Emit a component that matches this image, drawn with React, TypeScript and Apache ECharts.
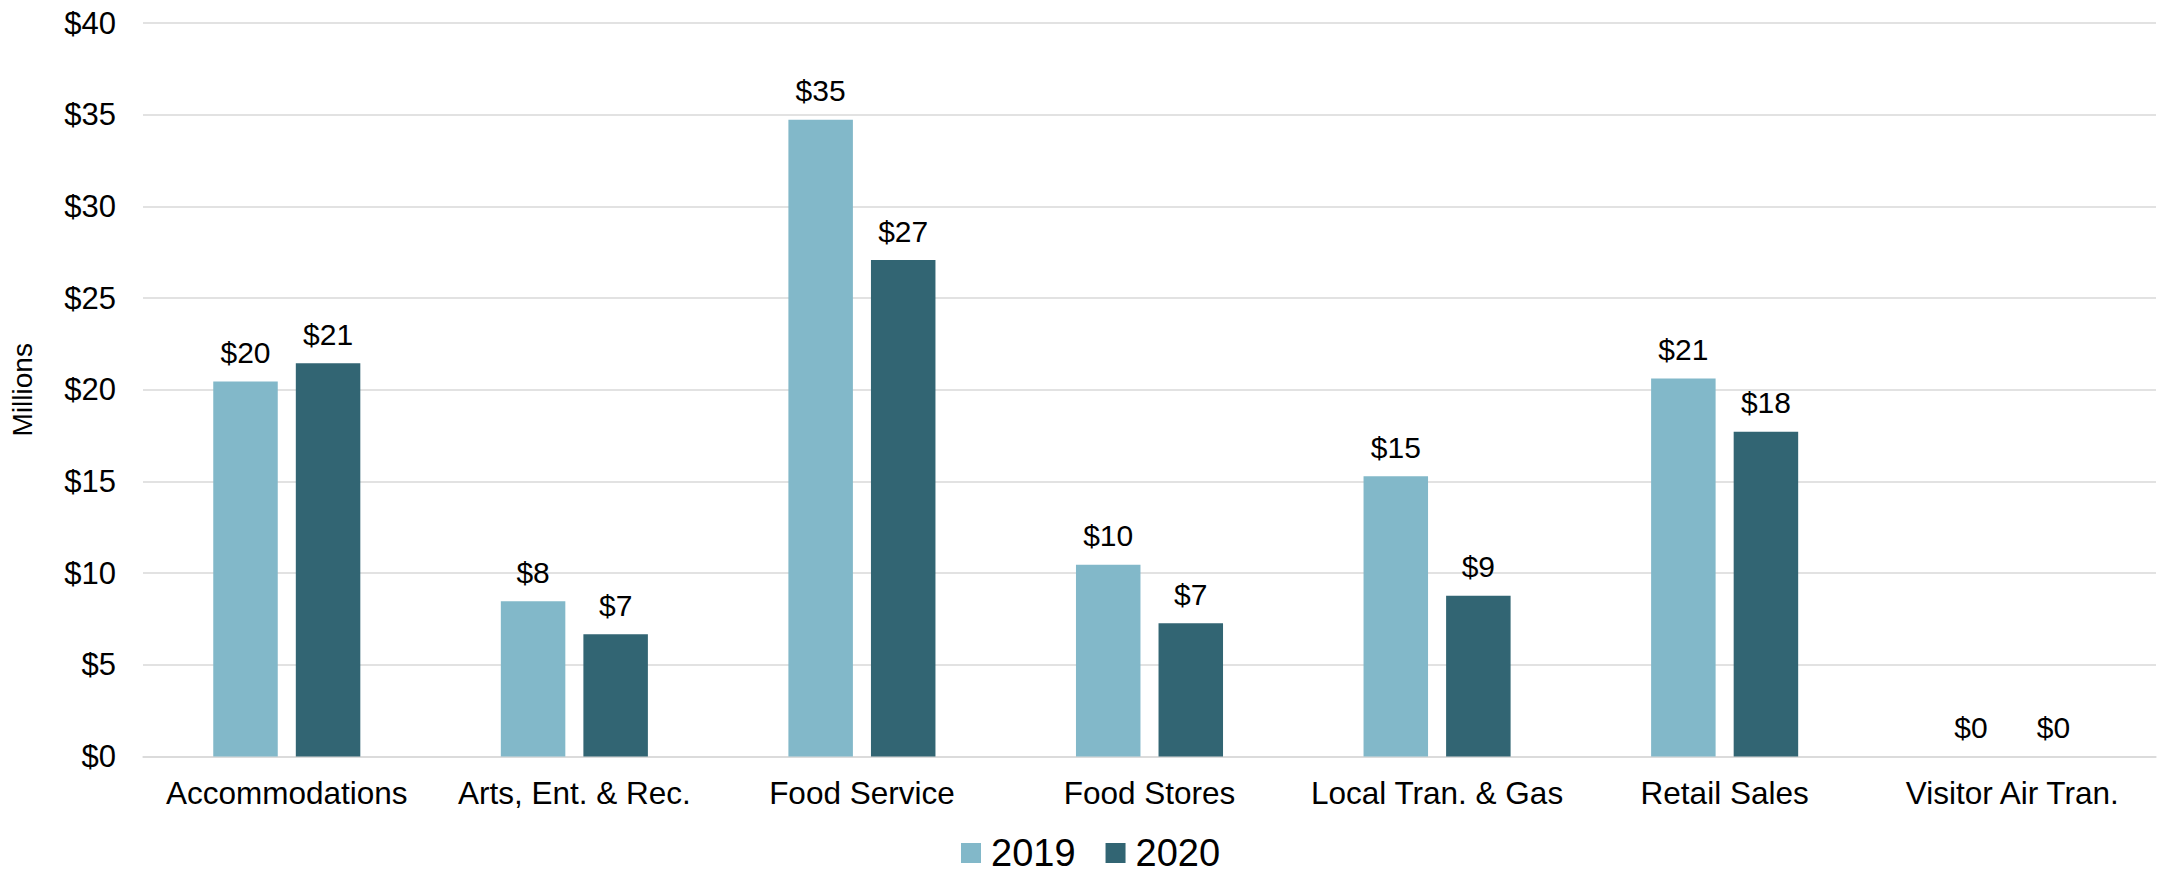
import React, { useEffect, useRef } from "react";
import * as echarts from "echarts";

const categories = [
  "Accommodations",
  "Arts, Ent. & Rec.",
  "Food Service",
  "Food Stores",
  "Local Tran. & Gas",
  "Retail Sales",
  "Visitor Air Tran.",
];
const values2019 = [20.45, 8.46, 34.72, 10.45, 15.28, 20.62, 0];
const values2020 = [21.44, 6.66, 27.07, 7.26, 8.77, 17.71, 0];
const yTicks = { min: 0, max: 40, interval: 5 };

const FONT = "Liberation Sans, Arial, sans-serif";

export default function App() {
  const ref = useRef<HTMLDivElement>(null);
  useEffect(() => {
    if (!ref.current) return;
    const chart = echarts.init(ref.current, null, { renderer: "svg" });
    const label = {
      show: true,
      position: "top",
      distance: 14,
      fontFamily: FONT,
      fontSize: 30,
      color: "#000",
      formatter: (p: any) => "$" + Math.round(p.value),
    };
    chart.setOption({
      animation: false,
      textStyle: { fontFamily: FONT },
      grid: { left: 136, right: 2, top: 23, bottom: 118.5 },
      legend: {
        left: 956,
        top: 829,
        itemWidth: 20,
        itemHeight: 20,
        itemGap: 30,
        icon: "rect",
        textStyle: { fontFamily: FONT, fontSize: 38, color: "#000", padding: [0, 0, 0, 5] },
        data: ["2019", "2020"],
      },
      xAxis: {
        type: "category",
        data: categories,
        axisTick: { show: false },
        axisLine: { lineStyle: { color: "#d9d9d9", width: 1.5 } },
        axisLabel: { fontFamily: FONT, fontSize: 31.5, color: "#000", margin: 20, interval: 0 },
      },
      yAxis: {
        type: "value",
        min: yTicks.min,
        max: yTicks.max,
        interval: yTicks.interval,
        name: "Millions",
        nameLocation: "middle",
        nameGap: 107,
        nameTextStyle: { fontFamily: FONT, fontSize: 28, color: "#000" },
        axisLine: { show: false },
        axisTick: { show: false },
        axisLabel: {
          fontFamily: FONT,
          fontSize: 31,
          color: "#000",
          margin: 27,
          formatter: (v: number) => "$" + v,
        },
        splitLine: { lineStyle: { color: "#d9d9d9", width: 1.5 } },
      },
      series: [
        {
          name: "2019",
          type: "bar",
          data: values2019,
          barWidth: 64.5,
          barGap: "28%",
          itemStyle: { color: "#82B8C9" },
          label,
        },
        {
          name: "2020",
          type: "bar",
          data: values2020,
          barWidth: 64.5,
          itemStyle: { color: "#326573" },
          label,
        },
      ],
    });
    return () => chart.dispose();
  }, []);
  return (
    <div
      ref={ref}
      style={{ position: "fixed", left: 0, top: 0, width: 2158, height: 875, background: "#fff" }}
    />
  );
}
